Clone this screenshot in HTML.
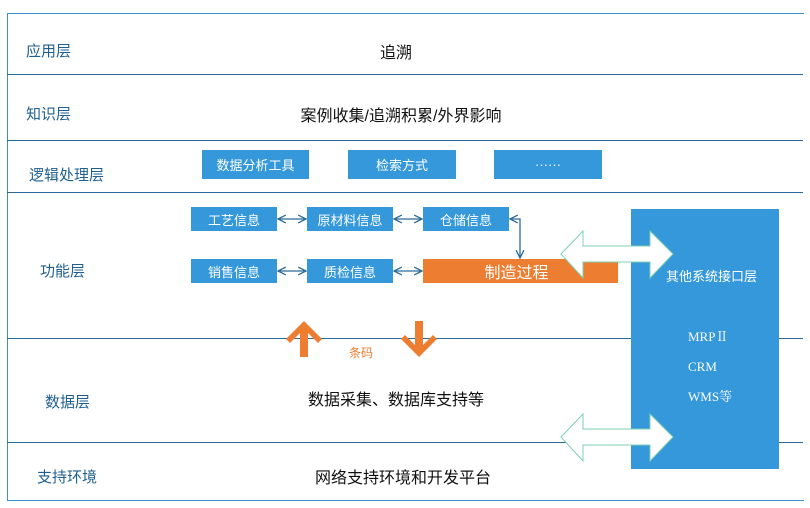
<!DOCTYPE html>
<html><head><meta charset="utf-8"><style>
body{margin:0;width:810px;height:508px;background:#fff;position:relative;overflow:hidden;font-family:"Liberation Sans","Noto Sans CJK SC",sans-serif}
div{position:absolute;box-sizing:border-box}
.h{left:7px;width:796px;height:0;border-top:1.5px solid #2a6a98}
.lab{color:#1f5f8f;font-size:15px;white-space:nowrap}
.t{color:#111;font-size:16px;white-space:nowrap;transform:translateX(-50%)}
.b{background:#3498db;color:#fff;font-size:13px;display:flex;align-items:center;justify-content:center}
</style></head><body>
<div style="left:7px;top:13px;width:797px;height:488px;border:1.5px solid #3a8fd0;border-right:none"></div>
<div class="h" style="top:74px"></div>
<div class="h" style="top:140px"></div>
<div class="h" style="top:192px"></div>
<div class="h" style="top:338px"></div>
<div class="h" style="top:442px"></div>
<div class="lab" style="left:26px;top:40px">应用层</div>
<div class="lab" style="left:26px;top:103px">知识层</div>
<div class="lab" style="left:29px;top:164px">逻辑处理层</div>
<div class="lab" style="left:40px;top:260px">功能层</div>
<div class="lab" style="left:45px;top:391px">数据层</div>
<div class="lab" style="left:37px;top:466px">支持环境</div>
<div class="t" style="left:396px;top:39px">追溯</div>
<div class="t" style="left:401px;top:102px">案例收集/追溯积累/外界影响</div>
<div class="t" style="left:396px;top:386px">数据采集、数据库支持等</div>
<div class="t" style="left:403px;top:464px">网络支持环境和开发平台</div>
<div class="b" style="left:202px;top:150px;width:107px;height:29px">数据分析工具</div>
<div class="b" style="left:348px;top:150px;width:108px;height:29px">检索方式</div>
<div class="b" style="left:494px;top:150px;width:108px;height:29px">······</div>
<div class="b" style="left:191px;top:207px;width:86px;height:24px">工艺信息</div>
<div class="b" style="left:307px;top:207px;width:86px;height:24px">原材料信息</div>
<div class="b" style="left:423px;top:207px;width:86px;height:24px">仓储信息</div>
<div class="b" style="left:191px;top:259px;width:86px;height:24px">销售信息</div>
<div class="b" style="left:307px;top:259px;width:86px;height:24px">质检信息</div>
<div class="b" style="left:423px;top:259px;width:195px;height:24px;background:#ed7d31;font-size:16px;padding-right:8px">制造过程</div>
<div style="left:631px;top:209px;width:148px;height:260px;background:#3498db"></div>
<div style="left:666px;top:266px;color:#fff;font-size:13px">其他系统接口层</div>
<div style="left:688px;top:322px;color:#fff;font-size:13px;font-family:'Liberation Serif','Noto Serif CJK SC',serif;line-height:30px">MRPⅡ<br>CRM<br>WMS等</div>
<svg width="810" height="508" style="position:absolute;left:0;top:0">
<defs><marker id="a" markerWidth="8" markerHeight="8" refX="7" refY="4" orient="auto-start-reverse"><path d="M1,1L7,4L1,7" fill="none" stroke="#2a6a98" stroke-width="1"/></marker></defs>
<g stroke="#2a6a98" stroke-width="1.3" marker-start="url(#a)" marker-end="url(#a)">
<line x1="278" y1="219" x2="306" y2="219"/><line x1="394" y1="219" x2="422" y2="219"/>
<line x1="278" y1="271" x2="306" y2="271"/><line x1="394" y1="271" x2="422" y2="271"/>
</g>
<path d="M510,219H520V258" fill="none" stroke="#2a6a98" stroke-width="1.3" marker-start="url(#a)" marker-end="url(#a)"/>
<g fill="#fff" stroke="#7fd0b0" stroke-width="1">
<path d="M561,254L583,231V246H650V231L673,254L650,278V262H583V278Z"/>
<path d="M561,437L583,414V429H650V414L673,437L650,461V445H583V461Z"/>
</g>
<path d="M304,321L322,339L318,343L308,333V357H300V333L290,343L286,339Z" fill="#ed7d31"/>
<path d="M419,357L401,339L405,335L415,345V321H423V345L433,335L437,339Z" fill="#ed7d31"/>
<text x="349" y="357" font-size="12" fill="#ed7d31" font-family="Liberation Sans,Noto Sans CJK SC,sans-serif">条码</text>
</svg>
</body></html>
